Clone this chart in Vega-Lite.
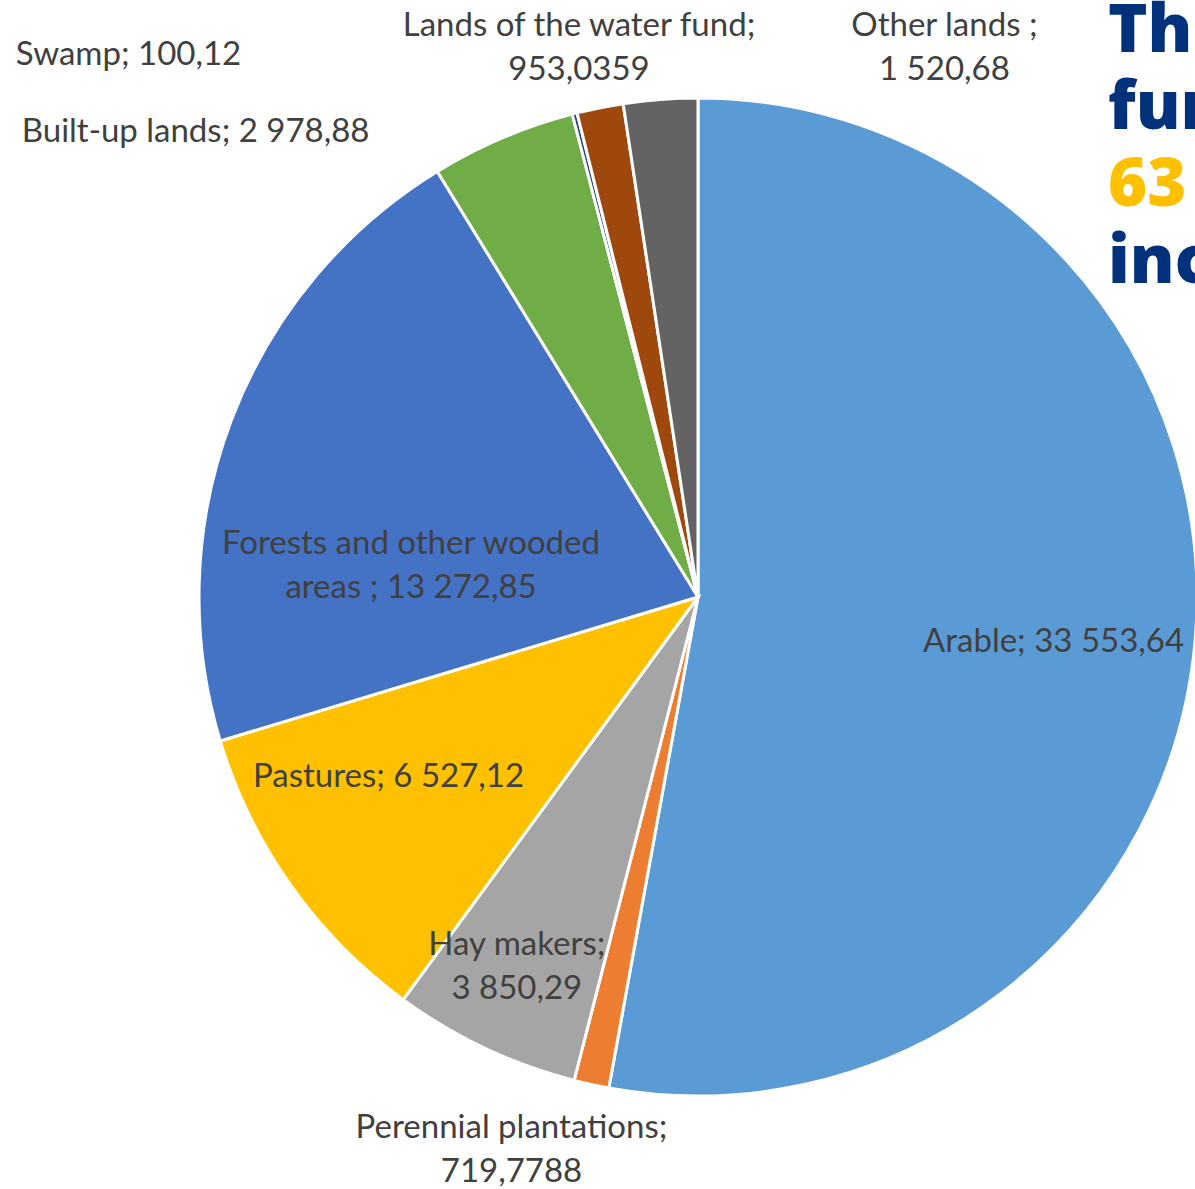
{
  "$schema": "https://vega.github.io/schema/vega-lite/v6.json",
  "width": 994,
  "height": 994,
  "autosize": {"type": "none"},
  "padding": {"left": 201, "top": 100, "right": 0, "bottom": 95},
  "background": "white",
  "config": {"view": {"stroke": null}, "text": {"font": "Lato", "fontSize": 33, "fill": "#404040", "lineBreak": "\n", "lineHeight": 44, "baseline": "middle", "align": "center"}},
  "datasets": {
    "land": [
      {"category": "Arable", "value": 33553.64, "label": "Arable; 33 553,64", "order": 1},
      {"category": "Perennial plantations", "value": 719.7788, "label": "Perennial plantations;\n719,7788", "order": 2},
      {"category": "Hay makers", "value": 3850.29, "label": "Hay makers;\n3 850,29", "order": 3},
      {"category": "Pastures", "value": 6527.12, "label": "Pastures; 6 527,12", "order": 4},
      {"category": "Forests and other wooded areas", "value": 13272.85, "label": "Forests and other wooded\nareas ; 13 272,85", "order": 5},
      {"category": "Built-up lands", "value": 2978.88, "label": "Built-up lands; 2 978,88", "order": 6},
      {"category": "Swamp", "value": 100.12, "label": "Swamp; 100,12", "order": 7},
      {"category": "Lands of the water fund", "value": 953.0359, "label": "Lands of the water fund;\n953,0359", "order": 8},
      {"category": "Other lands", "value": 1520.68, "label": "Other lands ;\n1 520,68", "order": 9}
    ],
    "headline": [
      {"line": "The", "tone": "blue"},
      {"line": "fund", "tone": "blue"},
      {"line": "63", "tone": "orange"},
      {"line": "inc", "tone": "blue"}
    ]
  },
  "layer": [
    {
      "data": {"name": "land"},
      "mark": {"type": "arc", "outerRadius": 499, "stroke": "white", "strokeWidth": 3},
      "encoding": {
        "theta": {"field": "value", "type": "quantitative", "stack": true},
        "order": {"field": "order", "type": "quantitative"},
        "color": {
          "field": "category", "type": "nominal", "legend": null,
          "scale": {
            "domain": ["Arable", "Perennial plantations", "Hay makers", "Pastures", "Forests and other wooded areas", "Built-up lands", "Swamp", "Lands of the water fund", "Other lands"],
            "range": ["#5B9BD5", "#ED7D31", "#A5A5A5", "#FFC000", "#4472C4", "#70AD47", "#264478", "#9E480E", "#636363"]
          }
        }
      }
    },
    {
      "data": {"name": "land"},
      "mark": {"type": "text", "radius": 357, "dx": 0, "dy": 13},
      "encoding": {
        "theta": {"field": "value", "type": "quantitative", "stack": true},
        "order": {"field": "order", "type": "quantitative"},
        "text": {"condition": {"test": "datum.category === 'Arable'", "field": "label"}, "value": ""}
      }
    },
    {
      "data": {"name": "land"},
      "mark": {"type": "text", "radius": 564, "dx": -66, "dy": -20},
      "encoding": {
        "theta": {"field": "value", "type": "quantitative", "stack": true},
        "order": {"field": "order", "type": "quantitative"},
        "text": {"condition": {"test": "datum.category === 'Perennial plantations'", "field": "label"}, "value": ""}
      }
    },
    {
      "data": {"name": "land"},
      "mark": {"type": "text", "radius": 410, "dx": -6, "dy": -23},
      "encoding": {
        "theta": {"field": "value", "type": "quantitative", "stack": true},
        "order": {"field": "order", "type": "quantitative"},
        "text": {"condition": {"test": "datum.category === 'Hay makers'", "field": "label"}, "value": ""}
      }
    },
    {
      "data": {"name": "land"},
      "mark": {"type": "text", "radius": 357, "dx": -18, "dy": -26},
      "encoding": {
        "theta": {"field": "value", "type": "quantitative", "stack": true},
        "order": {"field": "order", "type": "quantitative"},
        "text": {"condition": {"test": "datum.category === 'Pastures'", "field": "label"}, "value": ""}
      }
    },
    {
      "data": {"name": "land"},
      "mark": {"type": "text", "radius": 290, "dx": -16, "dy": 50},
      "encoding": {
        "theta": {"field": "value", "type": "quantitative", "stack": true},
        "order": {"field": "order", "type": "quantitative"},
        "text": {"condition": {"test": "datum.category === 'Forests and other wooded areas'", "field": "label"}, "value": ""}
      }
    },
    {
      "data": {"name": "land"},
      "mark": {"type": "text", "radius": 540, "dx": -291, "dy": 32},
      "encoding": {
        "theta": {"field": "value", "type": "quantitative", "stack": true},
        "order": {"field": "order", "type": "quantitative"},
        "text": {"condition": {"test": "datum.category === 'Built-up lands'", "field": "label"}, "value": ""}
      }
    },
    {
      "data": {"name": "land"},
      "mark": {"type": "text", "radius": 560, "dx": -431, "dy": 1},
      "encoding": {
        "theta": {"field": "value", "type": "quantitative", "stack": true},
        "order": {"field": "order", "type": "quantitative"},
        "text": {"condition": {"test": "datum.category === 'Swamp'", "field": "label"}, "value": ""}
      }
    },
    {
      "data": {"name": "land"},
      "mark": {"type": "text", "radius": 560, "dx": -9, "dy": -22},
      "encoding": {
        "theta": {"field": "value", "type": "quantitative", "stack": true},
        "order": {"field": "order", "type": "quantitative"},
        "text": {"condition": {"test": "datum.category === 'Lands of the water fund'", "field": "label"}, "value": ""}
      }
    },
    {
      "data": {"name": "land"},
      "mark": {"type": "text", "radius": 553, "dx": 288, "dy": -20},
      "encoding": {
        "theta": {"field": "value", "type": "quantitative", "stack": true},
        "order": {"field": "order", "type": "quantitative"},
        "text": {"condition": {"test": "datum.category === 'Other lands'", "field": "label"}, "value": ""}
      }
    },
    {
      "data": {"name": "headline"},
      "mark": {"type": "text", "font": "Open Sans", "fontWeight": 800, "fontSize": 67, "align": "left", "baseline": "alphabetic", "lineBreak": ""},
      "encoding": {
        "x": {"value": 907},
        "y": {"field": "line", "type": "ordinal", "axis": null, "sort": ["The", "fund", "63", "inc"], "scale": {"type": "point", "range": [-48, 183], "padding": 0}},
        "text": {"field": "line"},
        "color": {"condition": {"test": "datum.tone === 'orange'", "value": "#FFC000"}, "value": "#00317A"}
      }
    }
  ]
}
